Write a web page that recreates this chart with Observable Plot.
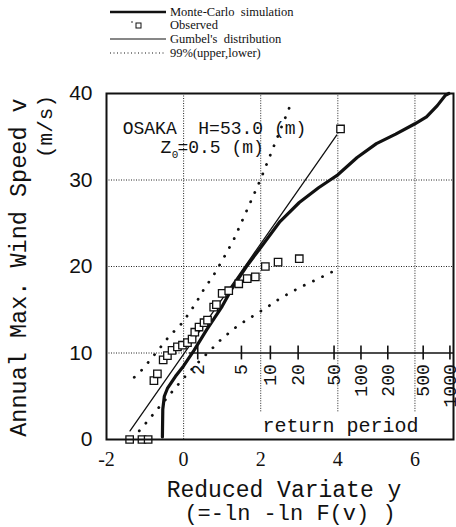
<!DOCTYPE html>
<html>
<head>
<meta charset="utf-8">
<script src="https://cdn.jsdelivr.net/npm/d3@7"></script>
<script src="https://cdn.jsdelivr.net/npm/@observablehq/plot@0.6"></script>
<style>
  body { margin: 0; background: white; }
  #wrap { width: 456px; height: 527px; position: relative; overflow: hidden; background: white; }
  #legend { position: relative; width: 456px; height: 60px; font-family: "Liberation Serif", serif; font-size: 12.5px; color: #111; }
  #legend .row { position: absolute; left: 170px; line-height: 12px; white-space: pre; }
  #legend svg { position: absolute; left: 0; top: 0; }
  #chart svg { display: block; }
</style>
</head>
<body>
<div id="wrap">
  <div id="legend"></div>
  <div id="chart"></div>
</div>
<script>
// ---- data ----
const legendLabels = ["Monte-Carlo  simulation", "Observed", "Gumbel's  distribution", "99%(upper,lower)"];

const xTicks = [-2, 0, 2, 4, 6];
const yTicks = [0, 10, 20, 30, 40];

const returnPeriods = [2, 5, 10, 20, 50, 100, 200, 500, 1000];

// Monte-Carlo simulation (reduced variate, wind speed)
const mcX = [-0.55, -0.54, -0.50, -0.42, -0.21, 0.00, 0.27, 0.60, 1.00, 1.30, 1.63, 2.00, 2.50, 3.00, 3.50, 3.80, 4.00, 4.50, 5.00, 5.50, 6.00, 6.30, 6.58, 6.79, 6.88];
const mcY = [0.3, 3.5, 5.0, 5.9, 7.3, 8.5, 10.3, 12.7, 15.4, 17.8, 20.0, 22.2, 25.2, 27.4, 29.1, 30.0, 30.6, 32.6, 34.2, 35.3, 36.5, 37.3, 38.6, 39.8, 40.0];

// Observed annual maxima
const obsX = [-1.40, -1.08, -0.92, -0.77, -0.68, -0.53, -0.42, -0.30, -0.16, -0.03, 0.10, 0.22, 0.29, 0.40, 0.53, 0.62, 0.78, 0.85, 1.00, 1.17, 1.43, 1.65, 1.86, 2.12, 2.45, 3.00, 4.07];
const obsY = [0.0, 0.0, 0.0, 6.8, 7.6, 9.2, 9.7, 10.3, 10.7, 10.9, 11.2, 11.6, 12.4, 13.0, 13.5, 13.8, 15.3, 15.6, 16.9, 17.2, 18.0, 18.6, 18.8, 20.0, 20.5, 20.9, 35.9];

// Gumbel's distribution (fitted line)
const gumX = [-1.39, 3.97];
const gumY = [1.0, 35.2];

// 99% confidence (upper, lower)
const upX = [-1.28, -1.07, -0.70, -0.38, -0.03, 0.31, 0.53, 0.78, 0.91, 1.04, 1.30, 1.99, 2.51, 2.81];
const upY = [7.2, 8.1, 10.1, 11.9, 13.5, 15.7, 17.4, 19.0, 20.0, 21.0, 23.1, 30.0, 35.8, 39.1];
const loX = [-1.15, -0.90, -0.72, -0.45, -0.21, 0.10, 0.40, 0.60, 0.96, 1.30, 1.56, 2.20, 2.50, 3.02, 3.50, 3.95];
const loY = [1.0, 2.3, 3.3, 4.7, 6.0, 7.6, 9.0, 9.9, 11.5, 12.8, 13.6, 15.4, 16.3, 17.6, 18.6, 19.6];

// ---- build tables ----
const zip = (xs, ys) => xs.map((x, i) => ({x, y: ys[i]}));
const mc = zip(mcX, mcY), obs = zip(obsX, obsY), gum = zip(gumX, gumY), up = zip(upX, upY), lo = zip(loX, loY);
const rp = returnPeriods.map(T => ({T, x: -Math.log(-Math.log(1 - 1 / T))}));

const mono = "Liberation Mono, DejaVu Sans Mono, monospace";
const gridDot = {stroke: "#222", strokeWidth: 1, strokeDasharray: "1 1.5"};
const bigDot = {stroke: "#111", strokeWidth: 2.8, strokeDasharray: "0.1 10", strokeLinecap: "round"};

// ---- legend ----
const leg = document.getElementById("legend");
const rowsY = [12, 25, 39, 53];
legendLabels.forEach((t, i) => {
  const d = document.createElement("div");
  d.className = "row";
  d.style.top = (rowsY[i] - 6) + "px";
  d.textContent = t;
  leg.appendChild(d);
});
const ls = d3.create("svg").attr("width", 170).attr("height", 60);
ls.append("line").attr("x1", 110).attr("x2", 166).attr("y1", 12).attr("y2", 12).attr("stroke", "#111").attr("stroke-width", 2.4);
ls.append("circle").attr("cx", 132).attr("cy", 22).attr("r", 0.8).attr("fill", "#111");
ls.append("rect").attr("x", 136).attr("y", 23).attr("width", 5).attr("height", 5).attr("fill", "white").attr("stroke", "#111").attr("stroke-width", 1);
ls.append("line").attr("x1", 110).attr("x2", 166).attr("y1", 39).attr("y2", 39).attr("stroke", "#111").attr("stroke-width", 1.2);
ls.append("line").attr("x1", 110).attr("x2", 166).attr("y1", 53).attr("y2", 53).attr("stroke", "#111").attr("stroke-width", 1).attr("stroke-dasharray", "1 2.5");
leg.appendChild(ls.node());

// ---- chart ----
const chart = Plot.plot({
  width: 456,
  height: 467,
  marginTop: 33,
  marginBottom: 88,
  marginLeft: 106,
  marginRight: 3,
  x: {domain: [-2, 7]},
  y: {domain: [0, 40]},
  style: {fontFamily: mono, background: "white", color: "#111"},
  marks: [
    // grid
    Plot.ruleY([20, 30], {...gridDot}),
    Plot.ruleY([10], {x1: -2, x2: 0.15, ...gridDot}),
    Plot.ruleX([0], {y1: 0, y2: 40, ...gridDot}),
    Plot.ruleX([2, 4, 6], {y1: 3.2, y2: 40, ...gridDot}),
    // return period axis
    Plot.ruleY([10], {x1: 0.15, x2: 7, stroke: "#111", strokeWidth: 1.6}),
    Plot.ruleX(rp, {x: "x", y1: 9.2, y2: 10.8, stroke: "#111", strokeWidth: 1.6}),
    Plot.text(rp, {x: "x", y: 8.7, text: d => String(d.T), rotate: -90, textAnchor: "end", fontSize: 18, fontFamily: mono}),
    Plot.text(["return period"], {x: 4.07, y: 1.55, text: d => d, fontSize: 20, fontFamily: mono}),
    // confidence bands
    Plot.line(up, {x: "x", y: "y", ...bigDot}),
    Plot.line(lo, {x: "x", y: "y", ...bigDot}),
    // Gumbel
    Plot.line(gum, {x: "x", y: "y", stroke: "#111", strokeWidth: 1.3}),
    // Monte-Carlo
    Plot.line(mc, {x: "x", y: "y", stroke: "#111", strokeWidth: 3.2, strokeLinejoin: "round"}),
    // observed
    Plot.dot(obs, {x: "x", y: "y", symbol: "square", r: 4.2, fill: "white", stroke: "#111", strokeWidth: 1.3}),
    // annotation
    Plot.text(["OSAKA  H=53.0 (m)"], {x: -1.58, y: 35.95, text: d => d, textAnchor: "start", fontSize: 18, fontFamily: mono}),
    Plot.text(["Z"], {x: -0.60, y: 33.76, text: d => d, textAnchor: "start", fontSize: 18, fontFamily: mono}),
    Plot.text(["0"], {x: -0.31, y: 33.0, text: d => d, textAnchor: "start", fontSize: 11, fontFamily: mono}),
    Plot.text(["=0.5 (m)"], {x: -0.16, y: 33.76, text: d => d, textAnchor: "start", fontSize: 18, fontFamily: mono}),
    // axes
    Plot.axisX({ticks: xTicks, tickSize: 0, tickPadding: 12, fontSize: 20, fontFamily: "Liberation Serif, serif", tickFormat: d => String(d), label: null}),
    Plot.axisY({ticks: yTicks, tickSize: 0, tickPadding: 14, fontSize: 21, fontFamily: "Liberation Sans, sans-serif", label: null}),
    // axis titles
    Plot.text(["Reduced Variate y"], {frameAnchor: "bottom", textAnchor: "middle", lineAnchor: "middle", dx: 4, dy: 50, text: d => d, fontSize: 23, fontFamily: mono}),
    Plot.text(["(=-ln -ln F(v) )"], {frameAnchor: "bottom", textAnchor: "middle", lineAnchor: "middle", dx: 10, dy: 73, text: d => d, fontSize: 22, fontFamily: mono}),
    Plot.text(["Annual Max. Wind Speed v"], {frameAnchor: "left", textAnchor: "middle", lineAnchor: "middle", dx: -88, dy: 1, rotate: -90, text: d => d, fontSize: 23.5, fontFamily: mono}),
    Plot.text(["(m/s)"], {frameAnchor: "left", textAnchor: "middle", lineAnchor: "middle", dx: -61, dy: -140, rotate: -90, text: d => d, fontSize: 21, fontFamily: mono}),
    // frame
    Plot.frame({stroke: "#111", strokeWidth: 2})
  ]
});
document.getElementById("chart").appendChild(chart);
</script>
</body>
</html>
